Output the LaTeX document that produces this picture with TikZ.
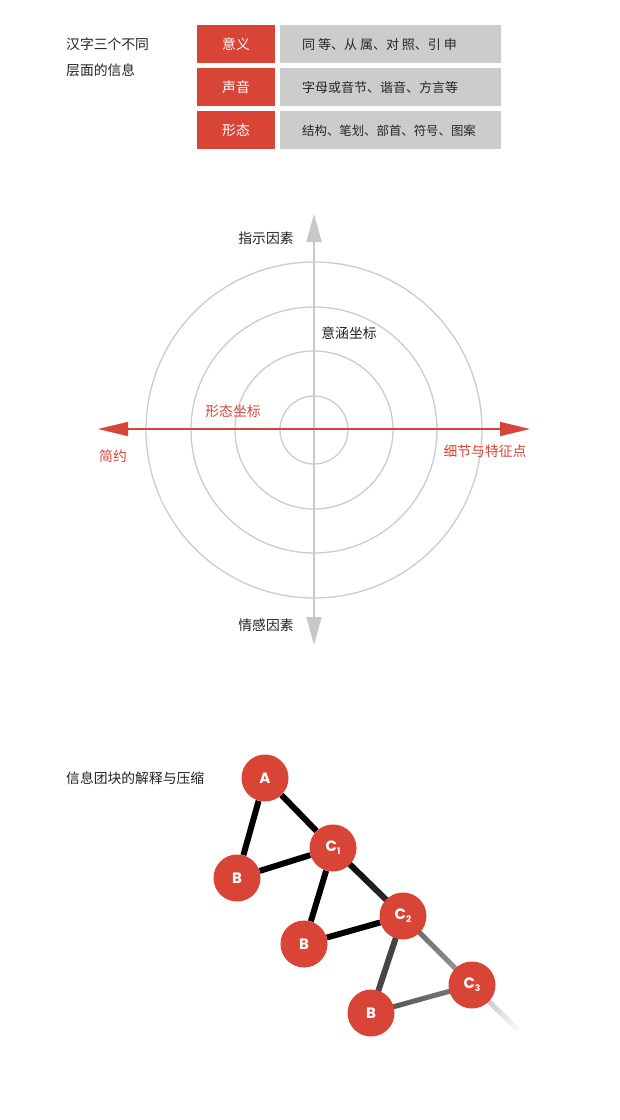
\documentclass[tikz,border=0pt]{standalone}
\usepackage{fontspec}
\setmainfont{Noto Sans CJK SC}
\newfontfamily\popfont{Poppins}
\usetikzlibrary{arrows.meta,calc,backgrounds}
\definecolor{myred}{HTML}{D84435}
\definecolor{boxgray}{HTML}{CCCCCC}
\definecolor{axisgray}{HTML}{C8C8C8}
\definecolor{ringgray}{HTML}{CCCCCC}
\definecolor{txt}{HTML}{222222}
\tikzset{
  lbl/.style={font=\fontsize{13.8}{15}\selectfont, text=txt, inner sep=0pt},
  redlbl/.style={lbl, text=myred},
  boxtxt/.style={lbl, anchor=west, text=black!85, font=\fontsize{13}{15}\selectfont},
  redbox/.style={fill=myred, minimum width=78pt, minimum height=38pt, inner sep=0pt, text=white, font=\fontsize{13.8}{15}\selectfont},
  graybox/.style={fill=boxgray, minimum width=221pt, minimum height=38pt, inner sep=0pt},
  ring/.style={draw=ringgray, line width=1.3pt},
  ball/.style={circle, fill=myred, minimum size=47pt, inner sep=0pt, text=white, font=\popfont\bfseries\fontsize{15}{15}\selectfont},
  link/.style={line width=6pt, black},
}
\newcommand\gradlink[5]{%
  \foreach \i in {0,...,23}{%
    \pgfmathsetmacro\ga{\i/24}%
    \pgfmathsetmacro\gb{(\i+1.05)/24}%
    \pgfmathsetmacro\gc{#3+(#4-#3)*\i/23}%
    \draw[line width=#5, color=black!\gc] ($(#1)!\ga!(#2)$) -- ($(#1)!\gb!(#2)$);
  }%
}
\begin{document}
\begin{tikzpicture}[x=1pt,y=-1pt]
\useasboundingbox (0,0) rectangle (620,1120);

% ---- top table ----
\node[lbl, anchor=west] (t1) at (66,44) {汉字三个不同};
\node[lbl, anchor=west] (t2) at (66,70) {层面的信息};
\node[redbox] (r1) at (236,44) {意义};
\node[redbox] (r2) at (236,87) {声音};
\node[redbox] (r3) at (236,130) {形态};
\node[graybox] (g1) at (390.5,44) {};
\node[graybox] (g2) at (390.5,87) {};
\node[graybox] (g3) at (390.5,130) {};
\node[boxtxt] (gt1) at (302,45) {同 等、从 属、对 照、引 申};
\node[boxtxt] (gt2) at (302,88) {字母或音节、谐音、方言等};
\node[boxtxt, font=\fontsize{12.4}{15}\selectfont] (gt3) at (302,131) {结构、笔划、部首、符号、图案};

% ---- rings ----
\coordinate (O) at (314,430);
\draw[ring] (O) circle[radius=168];
\draw[ring] (O) circle[radius=123];
\draw[ring] (O) circle[radius=79];
\draw[ring] (O) circle[radius=34];
\coordinate (vt) at (314,214);
\coordinate (vb) at (314,645);
\draw[axisgray, line width=2pt, {Triangle[length=28pt,width=15pt]}-{Triangle[length=28pt,width=15pt]}] (vt) -- (vb);
\coordinate (hl) at (98,429);
\coordinate (hr) at (530,429);
\draw[myred, line width=1.6pt, {Triangle[length=30pt,width=14pt]}-{Triangle[length=30pt,width=14pt]}] (hl) -- (hr);
\node[lbl] (top) at (266,238) {指示因素};
\node[lbl] (bot) at (266,625) {情感因素};
\node[lbl] (yh) at (349,333) {意涵坐标};
\node[redlbl] (xt) at (233,411) {形态坐标};
\node[redlbl] (jy) at (113,456) {简约};
\node[redlbl] (xj) at (485,451) {细节与特征点};

% ---- graph ----
\node[lbl, anchor=west] (gtitle) at (66,778) {信息团块的解释与压缩};
\node[ball] (A) at (265,778) {A};
\node[ball] (C1) at (333,848) {C\raisebox{-3pt}{\fontsize{9}{9}\selectfont 1}};
\node[ball] (B1) at (237,878) {B};
\node[ball] (C2) at (403,916) {C\raisebox{-3pt}{\fontsize{9}{9}\selectfont 2}};
\node[ball] (B2) at (304,944) {B};
\node[ball] (C3) at (472,985) {C\raisebox{-3pt}{\fontsize{9}{9}\selectfont 3}};
\node[ball] (B3) at (371,1013) {B};
\coordinate (tail) at (519,1031);
\begin{scope}[on background layer]
  \fill[white] (0,0) rectangle (620,1120);
  \draw[link] (A) -- (B1);
  \draw[link] (A) -- (C1);
  \draw[link] (B1) -- (C1);
  \draw[link] (C1) -- (B2);
  \draw[link] (B2) -- (C2);
  \gradlink{C1}{C2}{100}{80}{6pt}
  \gradlink{C2}{B3}{75}{72}{6pt}
  \gradlink{B3}{C3}{70}{50}{5pt}
  \gradlink{C2}{C3}{62}{38}{5pt}
  \gradlink{C3}{tail}{30}{2}{5pt}
\end{scope}
\end{tikzpicture}
\end{document}
